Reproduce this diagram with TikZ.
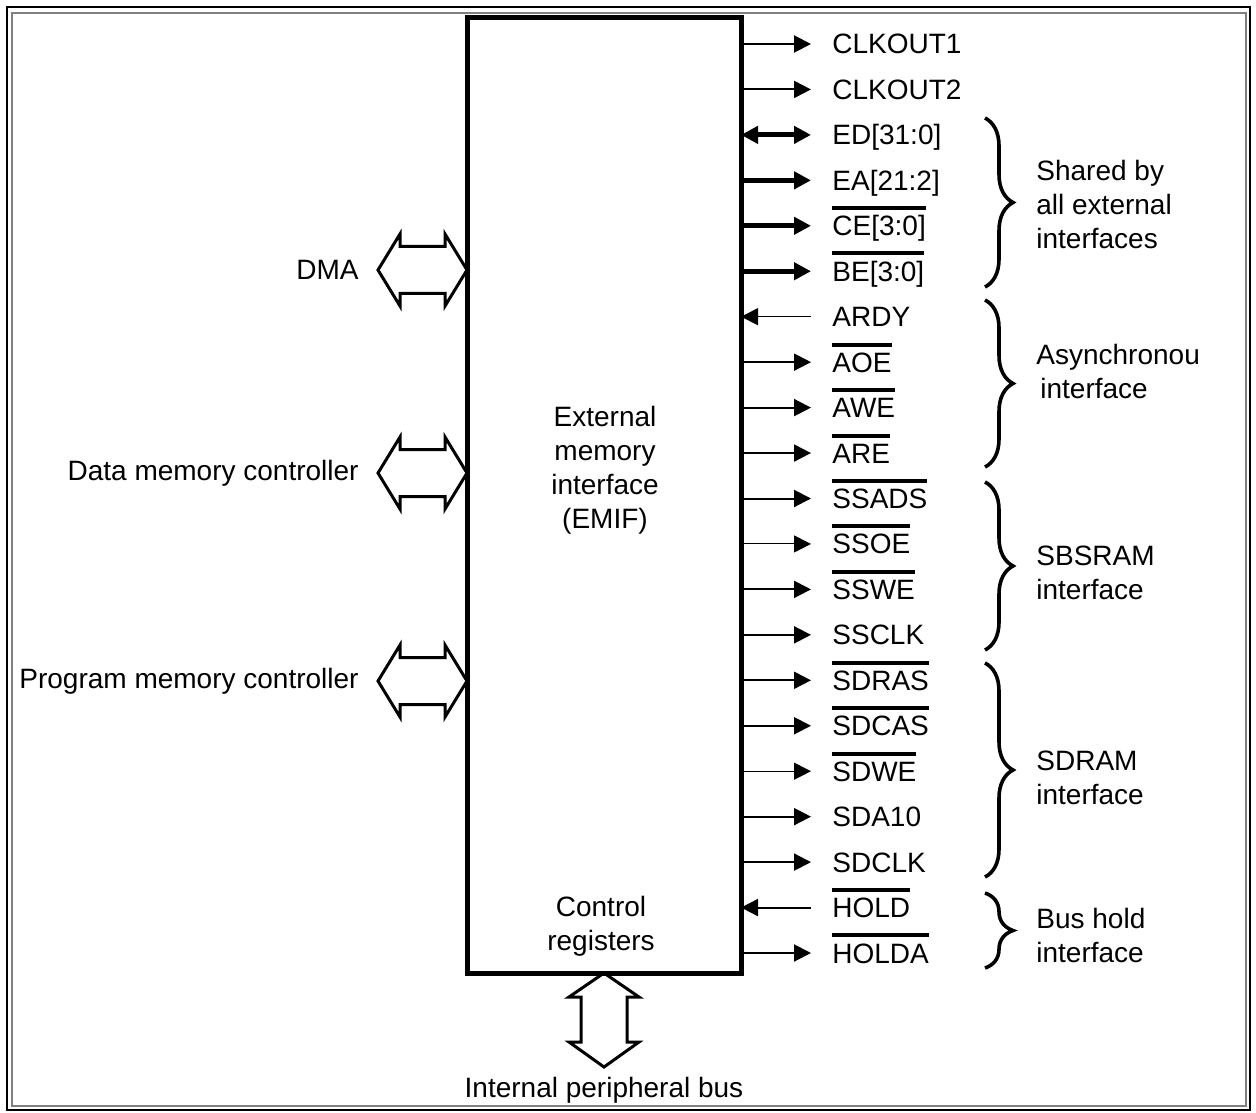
\documentclass[tikz,border=0pt]{standalone}
\usepackage{fontspec}
\setmainfont{Liberation Sans}
\usetikzlibrary{arrows.meta, positioning, decorations.pathreplacing}

% active-low signal name: bar over the text
\newcommand{\nbar}[1]{\vbox{\hrule height 2pt\kern 3pt\hbox{#1}}}

\begin{document}
\begin{tikzpicture}[
    x=0.5pt, y=-0.5pt,
    font=\fontsize{14pt}{17pt}\selectfont,
    emifbox/.style={draw, line width=2.5pt, outer sep=0pt,
                    minimum width=137pt, minimum height=477.5pt},
    siglabel/.style={anchor=base west, inner sep=0pt},
    sig/.style={line width=1pt, -{Triangle[length=8.5pt, width=8.5pt]}},
    sigwide/.style={sig, line width=2.5pt},
    sigthin/.style={sig, line width=0.5pt},
    sigbi/.style={sigwide, {Triangle[length=8.5pt, width=8.5pt]}-{Triangle[length=8.5pt, width=8.5pt]}},
    sigin/.style={line width=1pt, {Triangle[length=8.5pt, width=8.5pt]}-},
    sigthinin/.style={sigin, line width=0.5pt},
    bus/.style={draw, line width=1.5pt, line join=miter},
    grpbrace/.style={draw, line width=1.8pt, decorate,
                     decoration={brace, amplitude=14pt}},
    grplabel/.style={anchor=west, align=left, inner sep=0pt}
]
\useasboundingbox (0,0) rectangle (1256,1112);
% double frame
\draw[line width=1.3pt] (7,7) rectangle (1250,1110);
\draw[line width=0.8pt, gray] (12,13) rectangle (1246,1106);

% EMIF block
\node[emifbox] (emif) at (604,495.5) {};
\node[align=center] (emiftxt) at (605,470) {External\\memory\\interface\\(EMIF)};
\node[align=center] (ctrl) at (601,926) {Control\\registers};

% pins on the right
\foreach \name/\txt/\kind [count=\i from 0] in {
    ck1/CLKOUT1/sig, ck2/CLKOUT2/sig,
    ed/{ED[31:0]}/sigbi, ea/{EA[21:2]}/sigwide,
    ce/{\nbar{CE[3:0]}}/sigwide, be/{\nbar{BE[3:0]}}/sigwide,
    ardy/ARDY/sigthinin, aoe/{\nbar{AOE}}/sig,
    awe/{\nbar{AWE}}/sig, are/{\nbar{ARE}}/sig,
    ssads/{\nbar{SSADS}}/sig, ssoe/{\nbar{SSOE}}/sigthin,
    sswe/{\nbar{SSWE}}/sig, ssclk/SSCLK/sig,
    sdras/{\nbar{SDRAS}}/sig, sdcas/{\nbar{SDCAS}}/sig,
    sdwe/{\nbar{SDWE}}/sigthin, sda10/SDA10/sig, sdclk/SDCLK/sig,
    hold/{\nbar{HOLD}}/sigin, holda/{\nbar{HOLDA}}/sig}
{
    \pgfmathsetmacro{\y}{44+45.45*\i}
    \coordinate (\name-end) at (811,\y);
    \node[siglabel] (\name) at (832,\y+10) {\txt};
    \draw[\kind] (emif.east |- \name-end) -- (\name-end);
}

% groups of pins
\draw[grpbrace] (985,118) -- (985,287);
\draw[grpbrace] (985,300) -- (985,467);
\draw[grpbrace] (985,482) -- (985,650);
\draw[grpbrace] (985,663) -- (985,877);
\draw[grpbrace] (985,893) -- (985,968);
\node[grplabel] (gshared) at (1036,204) {Shared by\\all external\\interfaces};
\node[grplabel] (gasync) at (1036,371) {Asynchronou\\\hspace*{2pt}interface};
\node[grplabel] (gsbsram) at (1036,573) {SBSRAM\\interface};
\node[grplabel] (gsdram) at (1036,778) {SDRAM\\interface};
\node[grplabel] (ghold) at (1036,935) {Bus hold\\interface};

% internal buses on the left
\foreach \name/\txt/\y in {dma/DMA/270, dmem/Data memory controller/473,
                           pmem/Program memory controller/681}
{
    \node[anchor=east, inner sep=0pt] (\name) at (359,\y) {\txt};
    \coordinate (\name-tip) at (378,\y);
    \draw[bus] (\name-tip) -- ++(22,-36) -- ++(0,12.5) -- ++(45,0) -- ++(0,-12.5)
        -- (emif.west |- \name-tip) -- ++(-22,36) -- ++(0,-12.5) -- ++(-45,0)
        -- ++(0,12.5) -- cycle;
}

% peripheral bus below
\node (pbus) at (604,1090) {Internal peripheral bus};
\coordinate (pbus-tip) at (604,1067);
\draw[bus] (emif.south) -- ++(35,24) -- ++(-12,0) -- ++(0,45) -- ++(12,0)
    -- (pbus-tip) -- ++(-35,-25) -- ++(12,0) -- ++(0,-45) -- ++(-12,0) -- cycle;
\end{tikzpicture}
\end{document}
